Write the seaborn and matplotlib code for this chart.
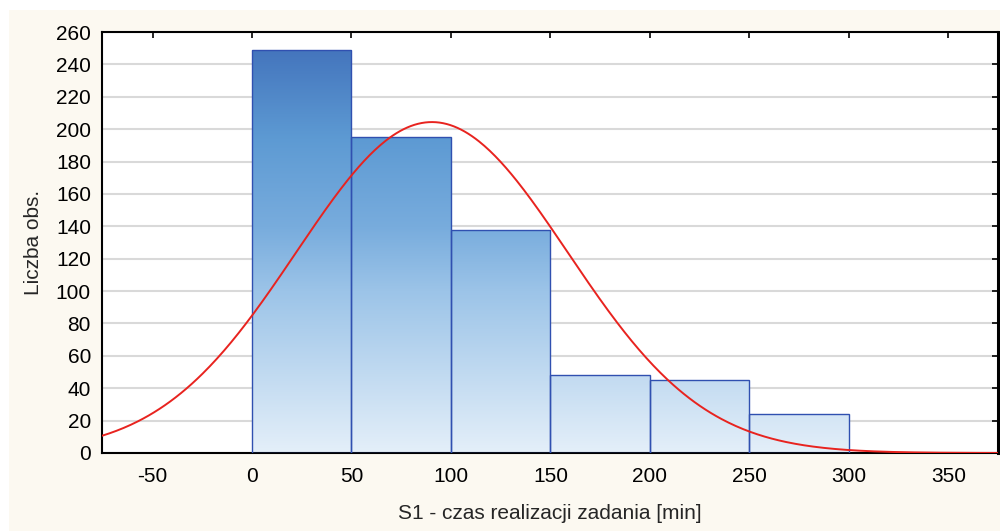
import matplotlib
matplotlib.use("Agg")
import matplotlib.pyplot as plt
from matplotlib.colors import LinearSegmentedColormap
from matplotlib.patches import Rectangle
import seaborn as sns
import pandas as pd
import numpy as np

# histogram bins (minutes) and counts
bin_edges = [0, 50, 100, 150, 200, 250, 300]
counts = [249, 195, 138, 48, 45, 24]
x_ticks = [-50, 0, 50, 100, 150, 200, 250, 300, 350]
y_ticks = list(range(0, 261, 20))
x_label = "S1 - czas realizacji zadania [min]"
y_label = "Liczba obs."

sns.set_style("white")
plt.rcParams['font.family'] = ['Liberation Sans', 'DejaVu Sans']
plt.rcParams['font.size'] = 15
plt.rcParams['axes.unicode_minus'] = False

fig = plt.figure(figsize=(10, 5.31), dpi=100, facecolor="white")
fig.patches.append(Rectangle((0.009, 0), 0.991, 1 - 10 / 531, transform=fig.transFigure,
                             facecolor="#fcf9f1", edgecolor="none", zorder=-10))
ax = fig.add_axes([0.102, 0.1469, 0.896, 0.7928])
ax.set_facecolor("white")

edges = np.array(bin_edges, dtype=float)
mids = (edges[:-1] + edges[1:]) / 2
cnt = np.array(counts, dtype=float)
df = pd.DataFrame({"czas": mids, "n": cnt})

sns.histplot(data=df, x="czas", weights="n", bins=list(bin_edges), ax=ax, stat="count",
             edgecolor="#3050b0", linewidth=1.0, alpha=1, zorder=3)

xlim = (-75.4, 375)
ylim = (0, 260)

# vertical gradient fill clipped to the bars
cmap = LinearSegmentedColormap.from_list(
    "statblue", [(0.0, "#e4eff9"), (0.4, "#9cc4e8"), (0.56, "#78acdd"),
                 (0.78, "#5d9ad3"), (1.0, "#4475bd")])
grad = np.linspace(0, 1, 256).reshape(-1, 1)
top = cnt.max()
for p in list(ax.patches):
    p.set_facecolor("none")
    img = ax.imshow(grad, cmap=cmap, origin="lower", aspect="auto",
                    extent=(edges[0], edges[-1], 0, top), zorder=2)
    img.set_clip_path(p)

# fitted normal curve (parameters from the binned data)
n = cnt.sum()
bw = edges[1] - edges[0]
mu = (mids * cnt).sum() / n
sd = np.sqrt(((mids - mu) ** 2 * cnt).sum() / n)
xs = np.linspace(xlim[0], xlim[1], 500)
ys = n * bw / (sd * np.sqrt(2 * np.pi)) * np.exp(-0.5 * ((xs - mu) / sd) ** 2)
sns.lineplot(x=xs, y=ys, ax=ax, color="#e8231f", linewidth=1.4, zorder=4)

ax.set_xlim(*xlim)
ax.set_ylim(*ylim)
ax.set_xticks(x_ticks)
ax.set_yticks(y_ticks)
ax.yaxis.grid(True, color="#d9d9d9", linewidth=1.5, zorder=0)
ax.xaxis.grid(False)
ax.set_axisbelow(True)

ax.tick_params(direction="in", length=4, width=1.2, top=True, right=True,
               labelsize=15, colors="black", pad=8)
ax.tick_params(axis="x", pad=10, labeltop=False)
ax.tick_params(axis="y", labelright=False)
for s in ax.spines.values():
    s.set_visible(True)
    s.set_color("black")
    s.set_linewidth(1.5)
ax.spines["right"].set_linewidth(2.2)

ax.set_xlabel(x_label, fontsize=15, labelpad=13)
ax.set_ylabel(y_label, fontsize=15, labelpad=9)

fig.savefig("out.png", dpi=100, facecolor=fig.get_facecolor())
